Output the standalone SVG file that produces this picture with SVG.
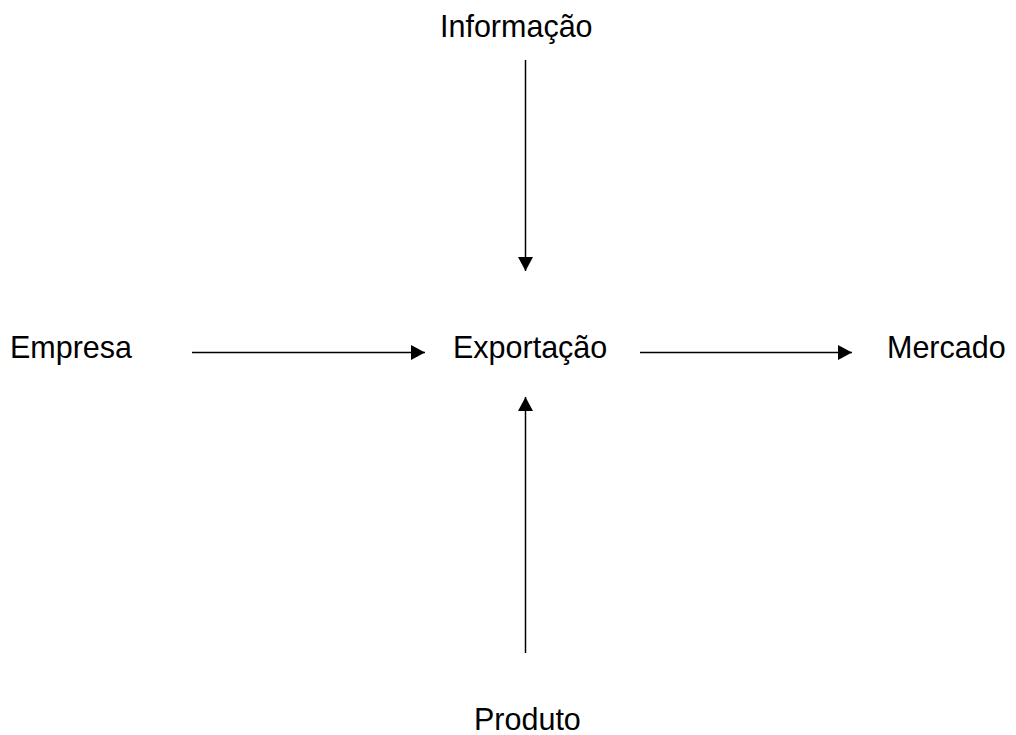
<svg xmlns="http://www.w3.org/2000/svg" width="1016" height="735" viewBox="0 0 1016 735">
<style>
  text { font-family: "Liberation Sans", Arial, sans-serif; font-size: 30.5px; fill: #000; }
  .c { stroke: #000; stroke-width: 1.5; fill: none; }
</style>
<defs>
  <marker id="ah" viewBox="0 0 14 15" refX="14" refY="7.5" markerWidth="14" markerHeight="15" markerUnits="userSpaceOnUse" orient="auto">
    <path d="M0,0 L14,7.5 L0,15 Z" fill="#000"/>
  </marker>
</defs>
<rect width="1016" height="735" fill="#fff"/>
<g id="connectors">
  <line class="c" x1="192" y1="352.5" x2="425" y2="352.5" marker-end="url(#ah)"/>
  <line class="c" x1="640" y1="352.5" x2="852" y2="352.5" marker-end="url(#ah)"/>
  <line class="c" x1="525.5" y1="60" x2="525.5" y2="271" marker-end="url(#ah)"/>
  <line class="c" x1="525.5" y1="653" x2="525.5" y2="397" marker-end="url(#ah)"/>
</g>
<g id="informacao"><text x="440" y="37">Informação</text></g>
<g id="empresa"><text x="10" y="358">Empresa</text></g>
<g id="exportacao"><text x="453" y="358">Exportação</text></g>
<g id="mercado"><text x="887" y="358">Mercado</text></g>
<g id="produto"><text x="474" y="730">Produto</text></g>
</svg>
